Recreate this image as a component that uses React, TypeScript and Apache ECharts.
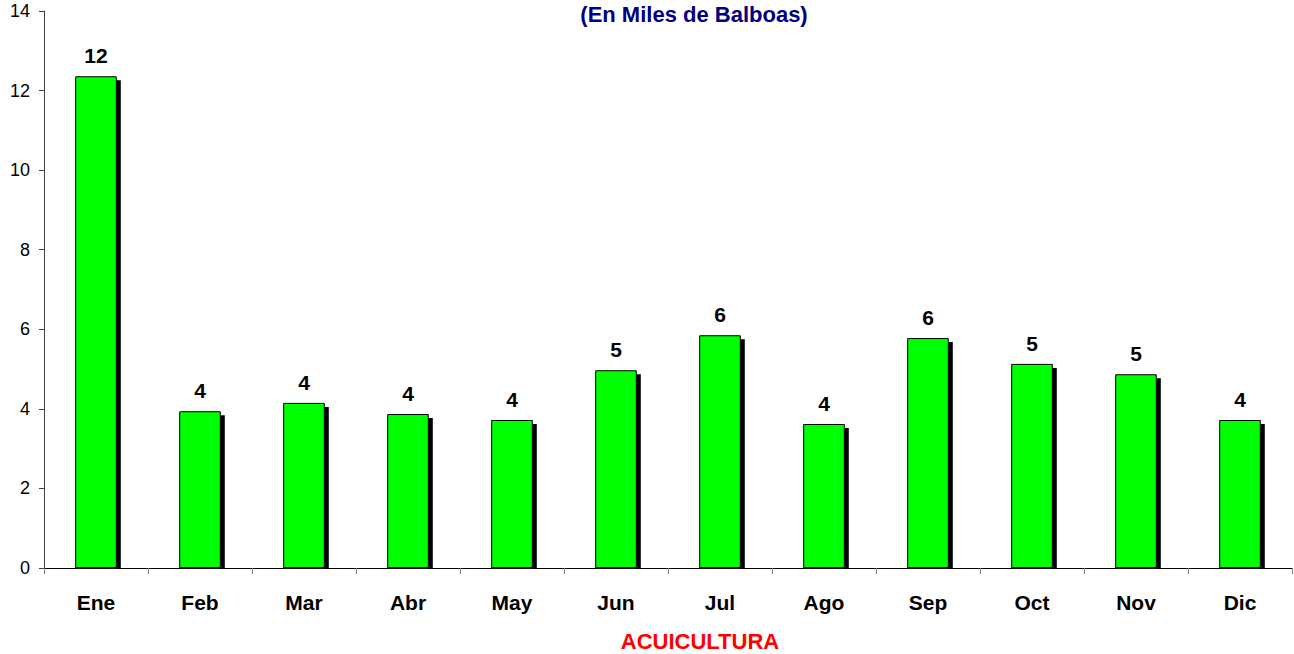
import React, { useEffect, useRef } from "react";
import * as echarts from "echarts";

const categories = ["Ene", "Feb", "Mar", "Abr", "May", "Jun", "Jul", "Ago", "Sep", "Oct", "Nov", "Dic"];
const values = [12.36, 3.94, 4.15, 3.87, 3.72, 4.97, 5.85, 3.62, 5.78, 5.13, 4.87, 3.72];
const subtitle = "(En Miles de Balboas)";
const xName = "ACUICULTURA";

const FONT = "'Liberation Sans', Arial, sans-serif";
const BAR_RATIO = 0.4;

export default function App() {
  const ref = useRef<HTMLDivElement>(null);
  useEffect(() => {
    if (!ref.current) return;
    const chart = echarts.init(ref.current, undefined, { renderer: "svg" });
    chart.setOption({
      animation: false,
      grid: { left: 44, right: 2, top: 11, bottom: 86, containLabel: false },
      graphic: [
        {
          type: "text",
          x: 694,
          y: 3,
          style: {
            text: subtitle,
            fill: "#000080",
            font: `bold 22px ${FONT}`,
            textAlign: "center",
            textVerticalAlign: "top",
          },
        },
        {
          type: "text",
          x: 700,
          y: 641,
          style: {
            text: xName,
            fill: "#ff0000",
            font: `bold 22px ${FONT}`,
            textAlign: "center",
            textVerticalAlign: "middle",
          },
        },
      ],
      xAxis: {
        type: "category",
        data: categories,
        axisLine: { lineStyle: { color: "#000", width: 1 } },
        axisTick: { show: true, length: 6, lineStyle: { color: "#808080" } },
        axisLabel: {
          color: "#000",
          fontFamily: FONT,
          fontWeight: "bold",
          fontSize: 21,
          margin: 24,
        },
      },
      yAxis: {
        type: "value",
        min: 0,
        max: 14,
        interval: 2,
        splitLine: { show: false },
        axisLine: { show: true, lineStyle: { color: "#404040", width: 1 } },
        axisTick: { show: true, length: 5, lineStyle: { color: "#404040" } },
        axisLabel: {
          color: "#000",
          fontFamily: FONT,
          fontSize: 18,
          margin: 14,
        },
      },
      series: [
        {
          type: "custom",
          z: 1,
          silent: true,
          data: values.map((v, i) => [i, v]),
          renderItem: (params: any, api: any) => {
            const top = api.coord([api.value(0), api.value(1)]);
            const bottom = api.coord([api.value(0), 0]);
            const w = api.size([1, 0])[0] * BAR_RATIO;
            return {
              type: "rect",
              shape: { x: top[0] - w / 2 + 4, y: top[1] + 4, width: w, height: bottom[1] - top[1] - 4 },
              style: { fill: "#000" },
            };
          },
        },
        {
          type: "bar",
          z: 2,
          data: values,
          barWidth: `${BAR_RATIO * 100}%`,
          itemStyle: {
            color: "#00ff00",
            borderColor: "#000",
            borderWidth: 1,
          },
          label: {
            show: true,
            position: "top",
            distance: 10,
            color: "#000",
            fontFamily: FONT,
            fontWeight: "bold",
            fontSize: 21,
            formatter: (p: any) => String(Math.round(p.value)),
          },
        },
      ],
    });
    return () => chart.dispose();
  }, []);
  return (
    <div
      ref={ref}
      style={{ position: "fixed", left: 0, top: 0, width: 1294, height: 654, background: "#fff" }}
    />
  );
}
